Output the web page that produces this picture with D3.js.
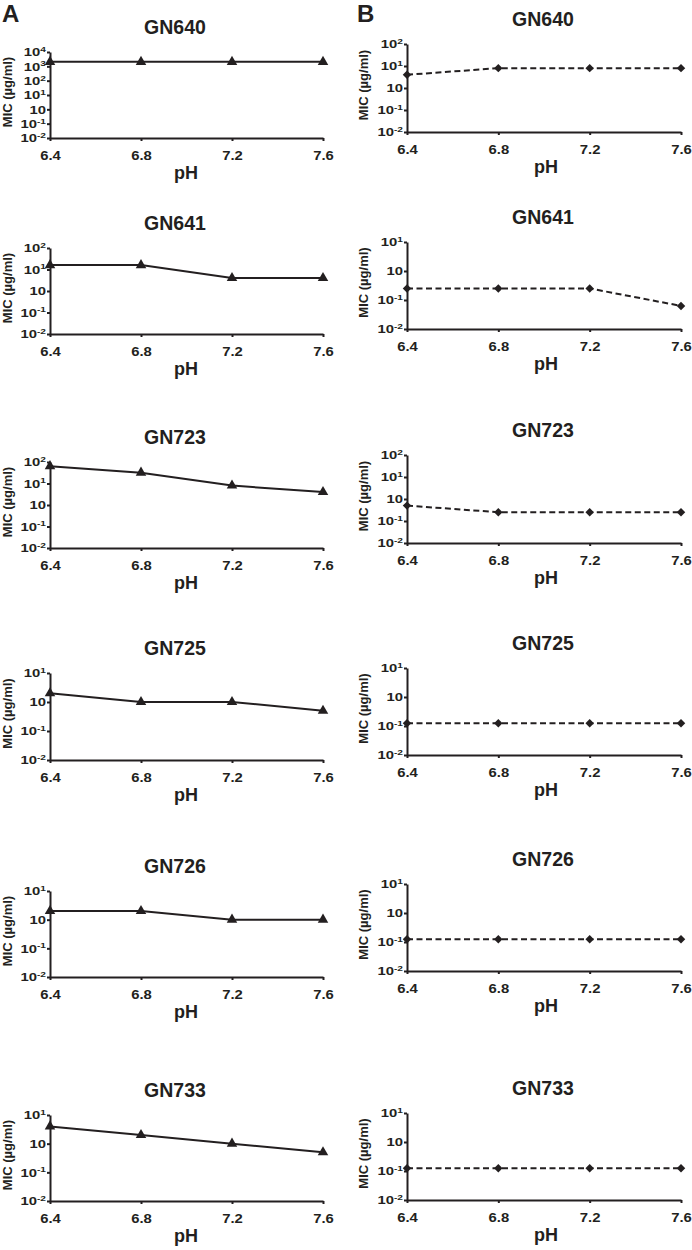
<!DOCTYPE html>
<html>
<head>
<meta charset="utf-8">
<script src="https://cdn.jsdelivr.net/npm/d3@7"></script>
<style>
  body { margin: 0; background: #fff; }
  svg { display: block; font-family: "Liberation Sans", Arial, sans-serif; font-weight: bold; }
</style>
</head>
<body>
<svg id="chart" width="692" height="1250"></svg>
<script>
var pH = [6.4, 6.8, 7.2, 7.6];
var strains = ["GN640", "GN641", "GN723", "GN725", "GN726", "GN733"];

// MIC values (µg/ml), panel A (solid, triangles)
var micA = [
  [2048, 2048, 2048, 2048],
  [16, 16, 4, 4],
  [64, 32, 8, 4],
  [2, 1, 1, 0.5],
  [2, 2, 1, 1],
  [4, 2, 1, 0.5]
];
// panel B (dashed, diamonds)
var micB = [
  [4, 8, 8, 8],
  [0.25, 0.25, 0.25, 0.0625],
  [0.5, 0.25, 0.25, 0.25],
  [0.125, 0.125, 0.125, 0.125],
  [0.125, 0.125, 0.125, 0.125],
  [0.125, 0.125, 0.125, 0.125]
];

// top decade of each y axis (bottom is always 10^-2)
var topExpA = [4, 2, 2, 1, 1, 1];
var topExpB = [2, 1, 2, 1, 1, 1];

// y tick labels as printed: "10" + superscript ("" = plain "10")
var yTickValues = [1e4, 1e3, 1e2, 1e1, 1, 0.1, 0.01];
var yTickSups = ["4", "3", "2", "1", "", "-1", "-2"];

// layout
var ink = "#231f20";
var cols = [
  { x0: 50, x1: 323, titleX: 175, phX: 186, yLabX: 12, letter: "A", letterX: 2, letterY: 22,
    tops: [52, 248, 462, 673, 891, 1115], bottoms: [138, 334, 548, 760, 977, 1201] },
  { x0: 407, x1: 681, titleX: 543, phX: 546, yLabX: 368, letter: "B", letterX: 357, letterY: 22,
    tops: [44, 242, 455, 668, 884, 1113], bottoms: [132, 329, 543, 755, 971, 1200] }
];

var svg = d3.select("#chart");

cols.forEach(function (col, ci) {
  svg.append("text")
    .attr("x", col.letterX)
    .attr("y", col.letterY)
    .attr("font-size", 24)
    .attr("fill", ink)
    .text(col.letter);

  strains.forEach(function (name, i) {
    var values = ci == 0 ? micA[i] : micB[i];
    var topExp = ci == 0 ? topExpA[i] : topExpB[i];
    drawPanel(col, name, values, topExp, col.tops[i], col.bottoms[i], ci == 1);
  });
});

function drawPanel(col, name, values, topExp, top, bottom, dashed) {
  var g = svg.append("g");

  var x = d3.scaleLinear().domain([6.4, 7.6]).range([col.x0, col.x1]);
  var y = d3.scaleLog().domain([0.01, Math.pow(10, topExp)]).range([bottom, top]);

  // title
  g.append("text")
    .attr("x", col.titleX)
    .attr("y", top - 18)
    .attr("text-anchor", "middle")
    .attr("font-size", 19.5)
    .attr("fill", ink)
    .text(name);

  // x axis
  var xa = g.append("g")
    .attr("transform", `translate(0,${bottom})`)
    .call(d3.axisBottom(x).tickValues(pH).tickFormat(d3.format(".1f")).tickSize(3).tickSizeOuter(0));
  xa.selectAll(".tick text")
    .attr("y", 22)
    .attr("dy", null)
    .attr("font-size", 13.5)
    .attr("transform", "scale(1.1,1)");

  // y axis, custom superscript labels
  var ticks = [], sups = [];
  yTickValues.forEach(function (v, k) {
    if (v <= Math.pow(10, topExp) * 1.0001) { ticks.push(v); sups.push(yTickSups[k]); }
  });
  var ya = g.append("g")
    .attr("transform", `translate(${col.x0},0)`)
    .call(d3.axisLeft(y).tickValues(ticks).tickFormat("").tickSize(3).tickSizeOuter(0));
  ya.selectAll(".tick text").each(function (d, k) {
    var t = d3.select(this)
      .attr("x", -3)
      .attr("dy", "0.36em")
      .attr("font-size", 11)
      .attr("text-anchor", "end")
      .attr("transform", "scale(1.35,1)");
    t.text(null);
    t.append("tspan").text("10");
    if (sups[k] != "") {
      t.append("tspan").attr("font-size", 7.5).attr("dy", -4.5).text(sups[k]);
    }
  });

  [xa, ya].forEach(function (a) {
    a.select(".domain").attr("stroke", ink).attr("stroke-width", 2);
    a.selectAll(".tick line").attr("stroke", ink).attr("stroke-width", 2);
    a.selectAll(".tick text").attr("fill", ink);
    a.attr("font-family", null).attr("font-size", null);
  });

  // axis titles
  g.append("text")
    .attr("x", col.phX)
    .attr("y", bottom + 41)
    .attr("text-anchor", "middle")
    .attr("font-size", 18)
    .attr("fill", ink)
    .text("pH");

  g.append("text")
    .attr("transform", `translate(${col.yLabX},${(top + bottom) / 2 - 3}) rotate(-90)`)
    .attr("text-anchor", "middle")
    .attr("font-size", 13)
    .attr("fill", ink)
    .text("MIC (µg/ml)");

  // series line + markers
  var pts = pH.map(function (p, k) { return [p, values[k]]; });
  var line = d3.line().x(d => x(d[0])).y(d => y(d[1]));
  g.append("path")
    .attr("d", line(pts))
    .attr("fill", "none")
    .attr("stroke", ink)
    .attr("stroke-width", 2)
    .attr("stroke-dasharray", dashed ? "6,3.5" : null);

  var sym = dashed
    ? d3.symbol().type(d3.symbolSquare).size(36)
    : d3.symbol().type(d3.symbolTriangle).size(48);
  g.selectAll("path.mark")
    .data(pts)
    .join("path")
    .attr("class", "mark")
    .attr("d", sym)
    .attr("fill", ink)
    .attr("transform", d => `translate(${x(d[0])},${y(d[1])})` + (dashed ? " rotate(45)" : ""));
}
</script>
</body>
</html>
